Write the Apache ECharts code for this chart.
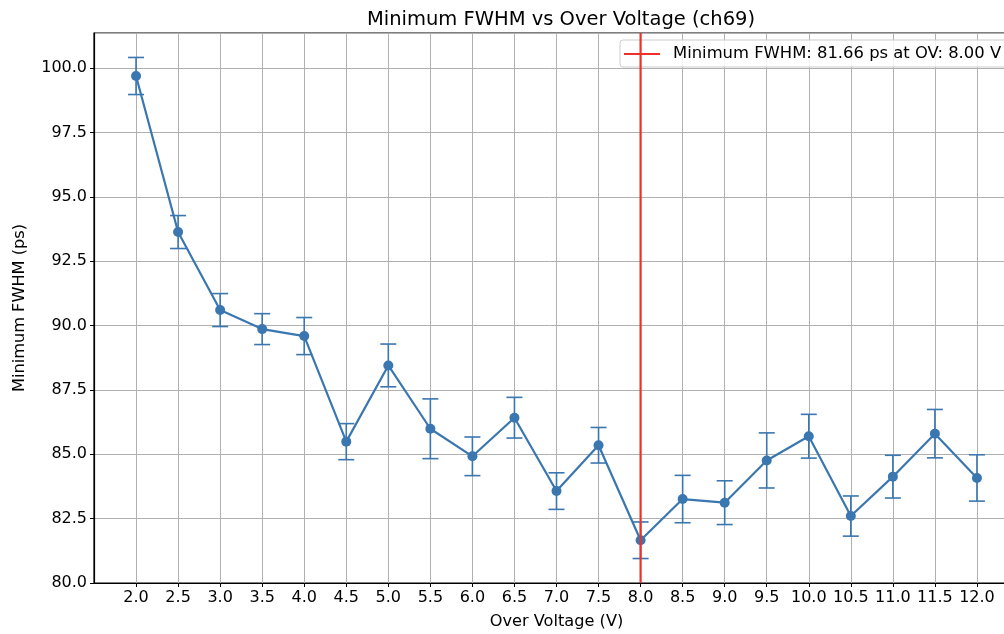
<!DOCTYPE html>
<html><head><meta charset="utf-8">
<script src="https://cdn.jsdelivr.net/npm/echarts@6/dist/echarts.min.js"></script>
<style>html,body{margin:0;padding:0;background:#fff}#c{width:1004px;height:634px}</style>
</head><body><div id="c"></div>
<script>
const overVoltage = [2.0,2.5,3.0,3.5,4.0,4.5,5.0,5.5,6.0,6.5,7.0,7.5,8.0,8.5,9.0,9.5,10.0,10.5,11.0,11.5,12.0];
const minFWHM = [99.69,93.63,90.60,89.86,89.59,85.49,88.45,85.99,84.92,86.42,83.57,85.35,81.66,83.26,83.12,84.76,85.70,82.60,84.13,85.80,84.08];
const fwhmErr = [0.72,0.64,0.64,0.60,0.72,0.70,0.83,1.16,0.75,0.79,0.71,0.69,0.71,0.92,0.85,1.07,0.85,0.78,0.83,0.94,0.90];
const bestOV = 8.0;
const bestFWHM = 81.66;
const titleText = 'Minimum FWHM vs Over Voltage (ch69)';
const xName = 'Over Voltage (V)';
const yName = 'Minimum FWHM (ps)';
const legendName = 'Minimum FWHM: ' + bestFWHM.toFixed(2) + ' ps at OV: ' + bestOV.toFixed(2) + ' V';

const yMin = 80, yMax = 101.36;
const blue = '#3a76af';
const font = 'DejaVu Sans';

const chart = echarts.init(document.getElementById('c'));
const errData = overVoltage.map((x,i)=>[x, minFWHM[i]-fwhmErr[i], minFWHM[i]+fwhmErr[i]]);
chart.setOption({
  animation:false,
  backgroundColor:'#fff',
  title:{text:titleText,left:556,textAlign:'center',top:5,textStyle:{fontFamily:font,fontSize:19.5,fontWeight:'normal',color:'#000'}},
  grid:{left:94,top:33,width:925,bottom:51,containLabel:false,outerBoundsMode:'none',show:true,borderColor:'#000',borderWidth:1.2,backgroundColor:'transparent'},
  legend:{show:true,left:620,top:40,itemWidth:36,itemHeight:2,itemGap:10,padding:[6,8,5,4],
    backgroundColor:'rgba(255,255,255,0.85)',borderColor:'#cccccc',borderWidth:1,borderRadius:3,
    icon:'rect',data:[{name:legendName}],
    textStyle:{fontFamily:font,fontSize:16.4,color:'#000',padding:[0,0,0,8]}},
  xAxis:{type:'value',min:1.5,max:12.5,interval:0.5,
    name:xName,nameLocation:'middle',nameGap:31,nameTextStyle:{fontFamily:font,fontSize:16.2,color:'#000'},
    axisLine:{show:true,onZero:false,lineStyle:{color:'#000',width:1.2}},
    axisTick:{show:true,length:4,lineStyle:{color:'#000'}},
    axisLabel:{fontFamily:font,fontSize:16,color:'#000',margin:7,showMinLabel:false,showMaxLabel:false,
      formatter:v=>v.toFixed(1)},
    splitLine:{show:true,lineStyle:{color:'#b0b0b0',width:1}}},
  yAxis:{type:'value',min:yMin,max:yMax,interval:2.5,
    name:yName,nameLocation:'middle',nameGap:66,nameTextStyle:{fontFamily:font,fontSize:16.2,color:'#000'},
    axisLine:{show:true,lineStyle:{color:'#000',width:1.2}},
    axisTick:{show:true,length:4,lineStyle:{color:'#000'}},
    axisLabel:{fontFamily:font,fontSize:16,color:'#000',margin:7,showMaxLabel:false,
      formatter:v=>v.toFixed(1)},
    splitLine:{show:true,lineStyle:{color:'#b0b0b0',width:1}}},
  series:[
    {type:'custom',name:'err',z:3,silent:true,
      renderItem:function(params,api){
        const x=api.value(0), lo=api.value(1), hi=api.value(2);
        const p1=api.coord([x,lo]), p2=api.coord([x,hi]);
        const w=8;
        const st={stroke:blue,lineWidth:1.6};
        return {type:'group',children:[
          {type:'line',shape:{x1:p1[0],y1:p1[1],x2:p2[0],y2:p2[1]},style:st},
          {type:'line',shape:{x1:p1[0]-w,y1:p1[1],x2:p1[0]+w,y2:p1[1]},style:st},
          {type:'line',shape:{x1:p2[0]-w,y1:p2[1],x2:p2[0]+w,y2:p2[1]},style:st}
        ]};
      },
      encode:{x:0,y:[1,2]},
      data:errData},
    {type:'line',name:'data',z:4,data:overVoltage.map((x,i)=>[x,minFWHM[i]]),
      symbol:'circle',symbolSize:10,showSymbol:true,
      lineStyle:{color:blue,width:2.2},itemStyle:{color:blue}},
    {type:'line',name:legendName,z:5,data:[[bestOV,yMin],[bestOV,yMax]],
      symbol:'none',lineStyle:{color:'#f03028',width:2.2},itemStyle:{color:'#f03028'}}
  ]
});
</script></body></html>
